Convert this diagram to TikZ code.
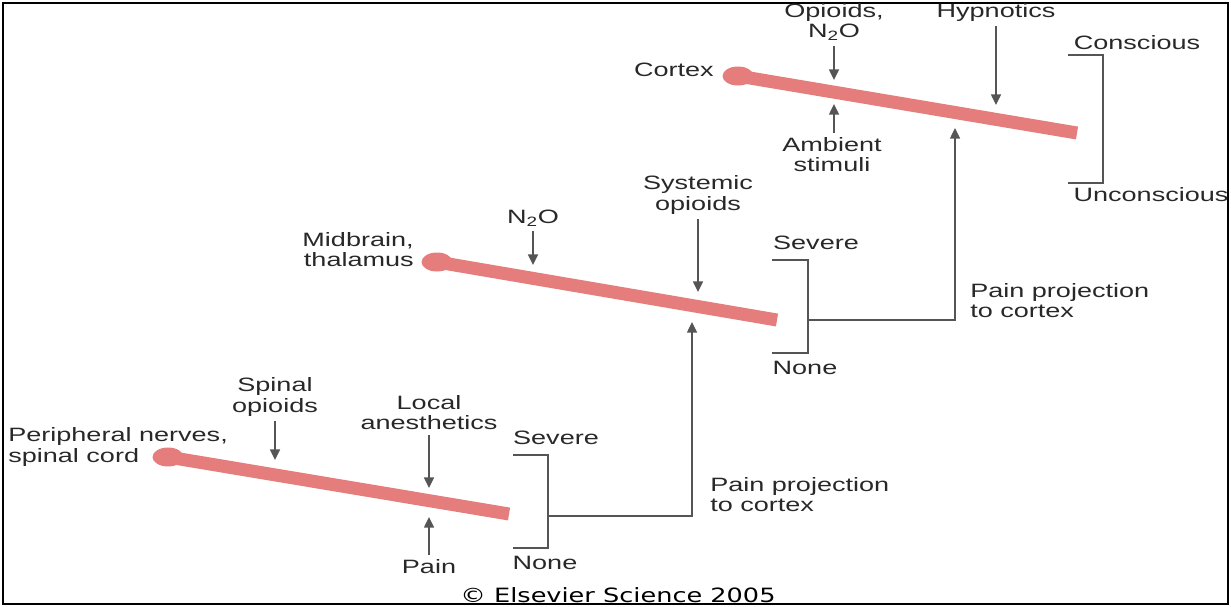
\documentclass[tikz,border=0pt]{standalone}
\usepackage{fontspec}
\setmainfont[FakeStretch=1.4]{Liberation Sans}
\newfontfamily\elsfont[FakeStretch=1.3]{DejaVu Sans}
\usepackage{xcolor}
\definecolor{salmao}{RGB}{230,125,125}
\definecolor{cinza}{RGB}{85,85,85}
\definecolor{texto}{RGB}{40,40,40}
\usetikzlibrary{arrows.meta, positioning}

\begin{document}
\begin{tikzpicture}[
    x=0.02cm, y=-0.02cm,
    bar/.style={salmao, line width=0.26cm},
    bulb/.style={fill=salmao},
    arr/.style={-{Triangle[length=6pt, width=5.5pt]}, cinza, line width=1.2pt},
    brk/.style={cinza, line width=1pt},
    lbl/.style={font=\fontsize{11}{11.4}\selectfont, text=texto,
                inner sep=0pt, outer sep=3pt, align=center}
  ]
  \useasboundingbox (0,0) rectangle (1231,606);
  \draw[line width=1.2pt] (3,3) rectangle (1228,604);

  % cortex level
  \coordinate (cxA) at (738,76);
  \coordinate (cxB) at (1077,133);
  \draw[bar] (cxA) -- (cxB);
  \fill[bulb] (cxA) ellipse [x radius=0.31cm, y radius=0.19cm];
  \node[lbl, anchor=east] (cortex) at (719,70) {Cortex};
  \node[lbl] (opn) at (834,22) {Opioids,\\N\textsubscript{2}O};
  \node[lbl] (amb) at (832,155) {Ambient\\stimuli};
  \node[lbl] (hyp) at (996,12) {Hypnotics};
  \coordinate (opnT) at (834,80);
  \coordinate (ambT) at (834,104);
  \coordinate (hypT) at (996,105);
  \draw[arr] (opn) -- (opnT);
  \draw[arr] (amb.north -| ambT) -- (ambT);
  \draw[arr] (hyp) -- (hypT);
  \coordinate (k1) at (1068,55);
  \coordinate (k2) at (1068,183);
  \draw[brk] (k1) -- ++(35,0) |- (k2);
  \node[lbl] (cons) at (1137,43) {Conscious};
  \node[lbl] (uncons) at (1151,195) {Unconscious};

  % midbrain level
  \coordinate (mbA) at (437,262);
  \coordinate (mbB) at (777,320);
  \draw[bar] (mbA) -- (mbB);
  \fill[bulb] (mbA) ellipse [x radius=0.31cm, y radius=0.19cm];
  \node[lbl, anchor=east, align=right] (midb) at (419,250) {Midbrain,\\thalamus};
  \node[lbl] (n2o) at (533,218) {N\textsubscript{2}O};
  \node[lbl] (sysop) at (698,195) {Systemic\\opioids};
  \coordinate (n2oT) at (533,265);
  \coordinate (sysT) at (698,292);
  \draw[arr] (n2o) -- (n2oT);
  \draw[arr] (sysop) -- (sysT);
  \coordinate (m1) at (772,260);
  \coordinate (m2) at (772,353);
  \draw[brk] (m1) -- ++(36,0) |- (m2);
  \node[lbl] (sev2) at (816,243) {Severe};
  \node[lbl] (none2) at (805,368) {None};
  \coordinate (mjA) at (808,320);
  \coordinate (cxU) at (955,128);
  \draw[arr] (mjA) -| (cxU);
  \node[lbl, anchor=west, align=left] (proj2) at (965,301) {Pain projection\\to cortex};

  % spinal level
  \coordinate (spA) at (168,457);
  \coordinate (spB) at (509,514);
  \draw[bar] (spA) -- (spB);
  \fill[bulb] (spA) ellipse [x radius=0.31cm, y radius=0.19cm];
  \node[lbl, anchor=west, align=left] (perif) at (3,447) {Peripheral nerves,\\spinal cord};
  \node[lbl] (spop) at (275,397) {Spinal\\opioids};
  \node[lbl] (locan) at (429,413) {Local\\anesthetics};
  \node[lbl] (pain) at (429,567) {Pain};
  \coordinate (spopT) at (275,460);
  \coordinate (locT) at (429,488);
  \coordinate (painT) at (429,517);
  \draw[arr] (spop) -- (spopT);
  \draw[arr] (locan) -- (locT);
  \draw[arr] (pain) -- (painT);
  \coordinate (s1) at (513,455);
  \coordinate (s2) at (513,548);
  \draw[brk] (s1) -- ++(35,0) |- (s2);
  \node[lbl] (sev1) at (556,438) {Severe};
  \node[lbl] (none1) at (545,563) {None};
  \coordinate (sjA) at (548,516);
  \coordinate (mbU) at (692,322);
  \draw[arr] (sjA) -| (mbU);
  \node[lbl, anchor=west, align=left] (proj1) at (705,495) {Pain projection\\to cortex};

  \node[font=\elsfont\fontsize{11.2}{12}\selectfont, text=black, inner sep=0pt] (els) at (618,595)
    {\textcopyright{} Elsevier Science 2005};
\end{tikzpicture}
\end{document}
